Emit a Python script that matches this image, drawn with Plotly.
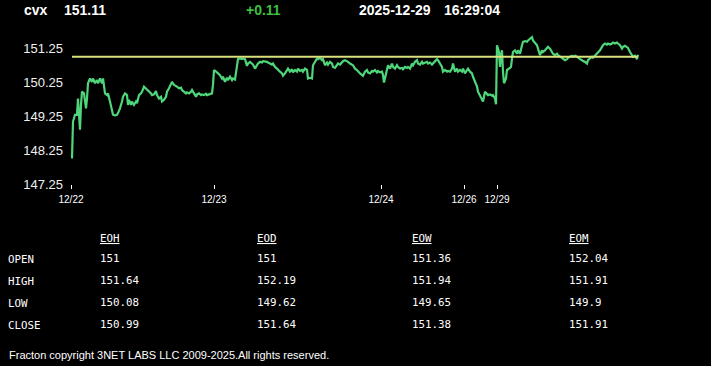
import plotly.graph_objects as go

# ---------------- header values ----------------
symbol = "cvx"
last_price = "151.11"
change = "+0.11"
quote_date = "2025-12-29"
quote_time = "16:29:04"
prev_close = 151.00

# ---------------- price series (bar index, price) per session ----------------
s_1222 = [(1, 148.00), (2, 149.09), (4, 149.29), (6, 149.29), (7, 149.77), (8, 149.38), (9, 148.85),
          (10, 149.58), (11, 149.97), (13, 149.92), (15, 149.48), (16, 149.77), (17, 150.22), (19, 150.36),
          (21, 150.26), (22, 150.36), (24, 150.22), (26, 150.31), (27, 150.22), (29, 150.36), (31, 150.22),
          (32, 150.36), (34, 149.92), (36, 149.87), (37, 149.92), (39, 149.68), (41, 149.38), (42, 149.29),
          (44, 149.27), (46, 149.29), (47, 149.34), (49, 149.48), (51, 149.68), (52, 149.82), (54, 149.92),
          (56, 149.87), (57, 149.58), (58, 149.73), (60, 149.58), (61, 149.68), (63, 149.58), (65, 149.68),
          (66, 149.63), (68, 149.87), (70, 149.92), (71, 149.97), (73, 150.12), (75, 150.07), (76, 150.02),
          (78, 149.97), (80, 149.92), (81, 149.87), (83, 149.89), (85, 149.99), (86, 149.87), (88, 149.77),
          (90, 149.82), (91, 149.68), (93, 149.73), (95, 149.82), (96, 149.97), (98, 150.07), (100, 150.17),
          (101, 150.26), (103, 150.17), (105, 150.15), (106, 150.12), (108, 150.07), (110, 150.09),
          (111, 150.02), (113, 149.97), (115, 149.92), (116, 149.95), (118, 149.92), (120, 149.97),
          (121, 150.02), (123, 149.92), (125, 149.82), (126, 149.89), (128, 149.92), (130, 149.87),
          (131, 149.89), (133, 149.87), (135, 149.91), (136, 149.87), (138, 149.89), (141, 149.92),
          (142, 150.17)]
s_1223 = [(143, 150.61), (146, 150.54), (149, 150.46), (151, 150.36), (152, 150.41), (154, 150.26),
          (156, 150.38), (157, 150.31), (159, 150.41), (161, 150.31), (162, 150.36), (164, 150.33),
          (166, 150.85), (167, 150.93), (169, 150.95), (171, 150.93), (172, 150.95), (174, 150.93),
          (176, 150.73), (177, 150.80), (179, 150.85), (181, 150.80), (182, 150.77), (184, 150.65),
          (186, 150.75), (187, 150.80), (189, 150.85), (191, 150.83), (192, 150.87), (194, 150.87),
          (196, 150.85), (197, 150.83), (199, 150.80), (201, 150.77), (202, 150.80), (204, 150.70),
          (206, 150.65), (207, 150.61), (209, 150.56), (211, 150.51), (212, 150.44), (214, 150.51),
          (216, 150.61), (217, 150.65), (219, 150.56), (221, 150.63), (222, 150.54), (224, 150.61),
          (226, 150.56), (227, 150.65), (229, 150.58), (231, 150.61), (232, 150.56), (234, 150.65),
          (236, 150.61), (237, 150.36), (239, 150.38), (241, 150.36), (242, 150.75), (244, 150.87),
          (246, 150.95), (247, 150.93), (249, 150.97), (251, 150.90), (252, 150.93), (254, 150.75),
          (256, 150.83), (257, 150.77), (259, 150.85), (261, 150.80), (262, 150.70), (264, 150.67),
          (266, 150.75), (267, 150.80), (269, 150.77), (271, 150.85), (272, 150.87), (274, 150.90),
          (276, 150.87), (277, 150.85), (279, 150.80), (281, 150.77), (282, 150.75), (284, 150.65),
          (286, 150.61), (289, 150.51), (291, 150.46), (292, 150.44), (294, 150.56), (296, 150.61),
          (297, 150.54), (299, 150.51), (301, 150.58), (302, 150.56), (304, 150.61), (306, 150.54),
          (307, 150.58), (309, 150.54)]
s_1224 = [(311, 150.56), (312, 150.46), (313, 150.24), (315, 150.51), (316, 150.65), (317, 150.75),
          (319, 150.65), (321, 150.80), (322, 150.70), (324, 150.65), (326, 150.75), (327, 150.70),
          (329, 150.65), (331, 150.67), (332, 150.63), (334, 150.70), (336, 150.67), (337, 150.70),
          (339, 150.65), (341, 150.80), (342, 150.75), (344, 150.85), (346, 150.90), (347, 150.80),
          (349, 150.77), (351, 150.85), (352, 150.80), (354, 150.83), (356, 150.85), (357, 150.80),
          (359, 150.83), (361, 150.77), (362, 150.80), (364, 150.85), (366, 150.93), (367, 150.90),
          (369, 150.80), (371, 150.70), (372, 150.56), (374, 150.61), (376, 150.56), (377, 150.58),
          (379, 150.56), (381, 150.65), (382, 150.80), (383, 150.61), (384, 150.56), (386, 150.65),
          (387, 150.56), (389, 150.61), (391, 150.56), (392, 150.65)]
s_1226 = [(394, 150.51), (396, 150.61), (397, 150.65), (399, 150.56), (401, 150.51), (402, 150.41),
          (404, 150.26), (406, 150.12), (407, 149.97), (409, 149.87), (411, 149.77), (412, 149.68),
          (414, 149.97), (416, 149.92), (417, 149.87), (419, 149.89), (421, 149.85), (422, 149.87),
          (424, 149.77), (425, 149.60)]
s_1229 = [(426, 151.34), (428, 151.14), (429, 150.70), (430, 151.05), (431, 151.19), (432, 150.56),
          (433, 150.22), (435, 150.36), (436, 150.61), (438, 150.65), (440, 150.70), (441, 150.95),
          (442, 151.14), (444, 151.19), (446, 151.09), (447, 151.19), (449, 151.09), (451, 151.34),
          (452, 151.44), (454, 151.46), (456, 151.44), (457, 151.48), (459, 151.53), (461, 151.58),
          (462, 151.48), (464, 151.39), (466, 151.34), (467, 151.24), (469, 151.05), (471, 151.19),
          (472, 151.14), (474, 151.19), (476, 151.24), (477, 151.29), (479, 151.24), (481, 151.16),
          (482, 151.09), (484, 151.05), (486, 151.09), (487, 151.05), (489, 151.00), (491, 150.97),
          (492, 150.93), (494, 150.90), (496, 150.93), (497, 150.97), (499, 151.00), (501, 151.03),
          (502, 151.00), (504, 151.03), (506, 151.00), (507, 150.97), (509, 150.93), (511, 150.90),
          (512, 150.87), (514, 150.85), (516, 150.80), (517, 150.90), (519, 150.95), (521, 151.00),
          (522, 150.97), (524, 151.03), (526, 151.09), (527, 151.14), (529, 151.19), (531, 151.29),
          (532, 151.34), (534, 151.39), (536, 151.36), (537, 151.39), (539, 151.36), (541, 151.39),
          (542, 151.42), (544, 151.39), (546, 151.42), (547, 151.39), (549, 151.34), (551, 151.24),
          (552, 151.29), (554, 151.32), (556, 151.29), (557, 151.26), (559, 151.14), (561, 151.03),
          (562, 151.00), (564, 151.03), (566, 150.93), (567, 151.06)]

# ---------------- axes ----------------
tick_idx = [0, 143, 310, 393, 426]
tick_labels = ["12/22", "12/23", "12/24", "12/26", "12/29"]
y_ticks = [147.25, 148.25, 149.25, 150.25, 151.25]

# ---------------- summary table ----------------
col_headers = ["EOH", "EOD", "EOW", "EOM"]
row_labels = ["OPEN", "HIGH", "LOW", "CLOSE"]
eoh = ["151", "151.64", "150.08", "150.99"]
eod = ["151", "152.19", "149.62", "151.64"]
eow = ["151.36", "151.94", "149.65", "151.38"]
eom = ["152.04", "151.91", "149.9", "151.91"]
table_cols = [eoh, eod, eow, eom]

footer = "Fracton copyright 3NET LABS LLC 2009-2025.All rights reserved."

# ---------------- figure ----------------
W, H = 711, 366
ML, MR, MT, MB = 71, 11, 33, 182
PW = W - ML - MR
PH = H - MT - MB

pairs = s_1222 + s_1223 + s_1224 + s_1226 + s_1229
bars = [p[0] for p in pairs]
prices = [p[1] for p in pairs]

fig = go.Figure()
fig.add_trace(go.Scatter(x=bars, y=prices, mode="lines",
                         line=dict(color="#4fd67a", width=2.2), hoverinfo="skip"))
fig.add_trace(go.Scatter(x=[bars[0], bars[-1]], y=[prev_close, prev_close], mode="lines",
                         line=dict(color="#d9e27c", width=2), hoverinfo="skip"))


def px(x):
    return (x - ML) / PW


def py(y):
    return (H - MB - y) / PH


ann = []


def text(x, y, s, size, color="#ffffff", family="Liberation Sans", xanchor="left"):
    ann.append(dict(x=px(x), y=py(y), xref="paper", yref="paper", text=s, showarrow=False,
                    xanchor=xanchor, yanchor="middle", borderpad=0,
                    font=dict(size=size, color=color, family=family)))


# header
text(23, 10, "<b>%s</b>" % symbol, 14)
text(63, 10, "<b>%s</b>" % last_price, 14)
text(245, 10, "<b>%s</b>" % change, 14, color="#3fbf3f")
text(358, 10, "<b>%s</b>" % quote_date, 14)
text(443, 10, "<b>%s</b>" % quote_time, 14)

# table
mono = "DejaVu Sans Mono"
col_x = [99, 256, 411, 568]
row_y = [259, 280.5, 302.5, 324.5]
for cx, hdr in zip(col_x, col_headers):
    text(cx, 238.5, "<u>%s</u>" % hdr, 10.8, family=mono)
for ry, lab in zip(row_y, row_labels):
    text(7, ry + 0.5, lab, 10.8, family=mono)
for cx, col in zip(col_x, table_cols):
    for ry, v in zip(row_y, col):
        text(cx, ry - 0.5, v, 10.8, family=mono)

# footer
text(8, 355, footer, 11)

fig.update_layout(
    width=W, height=H,
    margin=dict(l=ML, r=MR, t=MT, b=MB, pad=0),
    paper_bgcolor="#000000", plot_bgcolor="#000000",
    showlegend=False,
    annotations=ann,
    xaxis=dict(range=[0, PW], showgrid=False, zeroline=False, showline=False,
               tickmode="array", tickvals=tick_idx, ticktext=tick_labels,
               ticks="outside", ticklen=4, tickwidth=1, tickcolor="#ffffff",
               tickfont=dict(family="Liberation Sans", size=10, color="#ffffff"),
               ticklabelstandoff=2, fixedrange=True),
    yaxis=dict(range=[147.25, 151.70], showgrid=False, zeroline=False, showline=False,
               tickmode="array", tickvals=y_ticks, ticktext=["%.2f" % v for v in y_ticks],
               ticks="", tickfont=dict(family="Liberation Sans", size=13, color="#eeeeee"),
               ticklabelstandoff=7, fixedrange=True),
)

fig.write_html("out.html", config={"displayModeBar": False},
               post_script="document.body.style.margin='0';document.body.style.background='#000';")
